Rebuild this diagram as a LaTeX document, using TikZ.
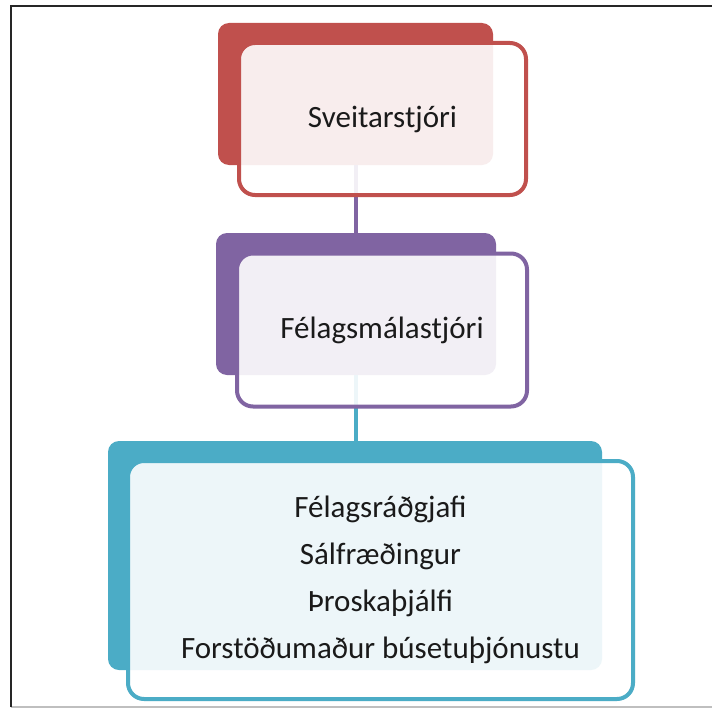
\documentclass[tikz,border=0pt]{standalone}
\usepackage{fontspec}
\setmainfont{Carlito}
\definecolor{cred}{HTML}{C0504D}
\definecolor{cpurple}{HTML}{8064A2}
\definecolor{cteal}{HTML}{4BACC6}
\definecolor{ctext}{HTML}{1A1A1A}
\tikzset{
  backbox/.style={rectangle, rounded corners=11pt, inner sep=0pt},
  frontbox/.style={rectangle, rounded corners=16pt, line width=4pt, fill=white,
    fill opacity=0.9, text opacity=1, text=ctext, inner sep=0pt, align=center,
    font=\fontsize{31}{47}\selectfont},
  conn/.style={line width=4pt},
  frameline/.style={line width=2.5pt, draw=black!85}
}
\begin{document}
\begin{tikzpicture}[x=1pt,y=-1pt]
\useasboundingbox (0,0) rectangle (712,709);
\fill[white] (0,0) rectangle (712,709);
% frame
\draw[line width=1.5pt, draw=black!25] (11,707) -- (712,707);
\draw[frameline] (11,707) -- (11,6) -- (712,6);
% back shapes
\node[backbox, fill=cred, minimum width=275pt, minimum height=142pt] (b1) at (355.5,94) {};
\node[backbox, fill=cpurple, minimum width=280pt, minimum height=142pt] (b2) at (356,304) {};
\node[backbox, fill=cteal, minimum width=494pt, minimum height=229pt] (b3) at (355,555.5) {};
% connectors
\draw[conn, cpurple] (b1.south) -- (b1.south |- b2.north);
\draw[conn, cteal] (b2.south) -- (b2.south |- b3.north);
% front shapes
\node[frontbox, draw=cred, minimum width=287pt, minimum height=152pt] (f1) at (382.5,119) {Sveitarstjóri};
\node[frontbox, draw=cpurple, minimum width=290pt, minimum height=153pt] (f2) at (382,330) {Félagsmálastjóri};
\node[frontbox, draw=cteal, minimum width=505pt, minimum height=238pt] (f3) at (380.5,580) {Félagsráðgjafi\\Sálfræðingur\\Þroskaþjálfi\\Forstöðumaður búsetuþjónustu};
\end{tikzpicture}
\end{document}
